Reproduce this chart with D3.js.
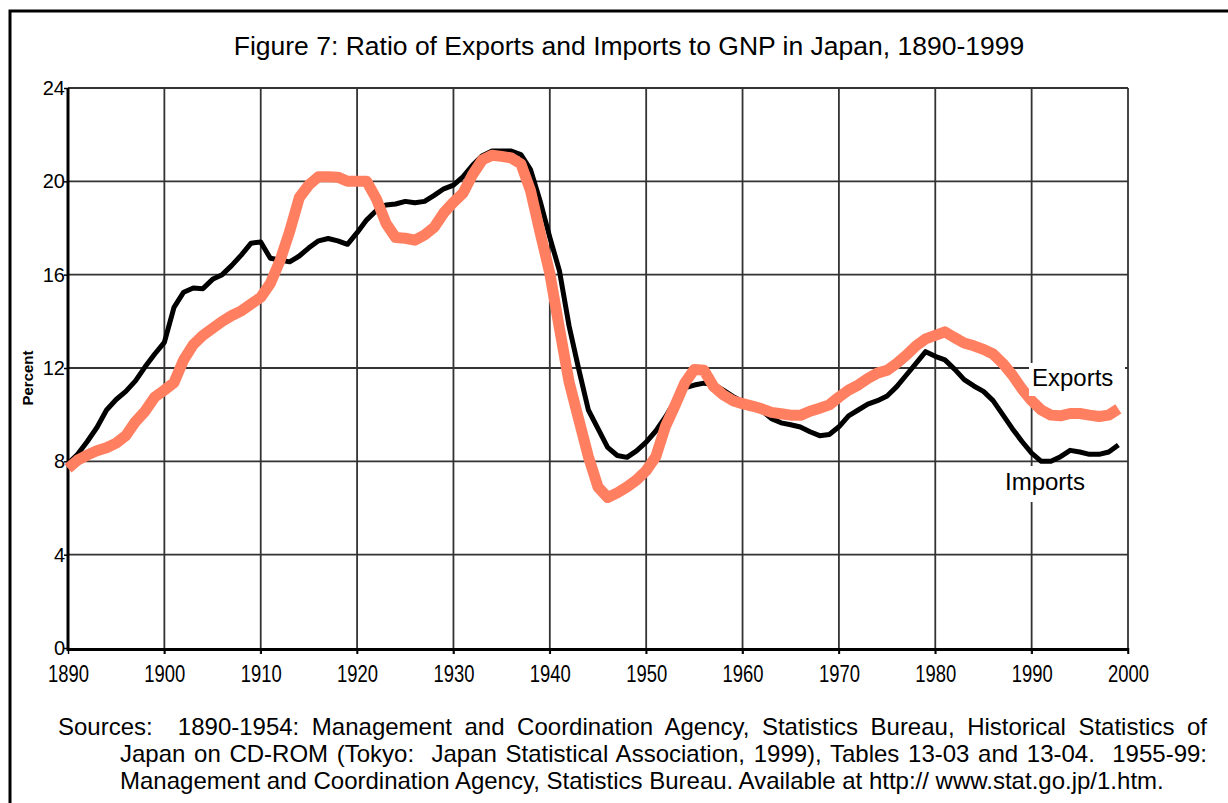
<!DOCTYPE html>
<html>
<head>
<meta charset="utf-8">
<script src="https://cdn.jsdelivr.net/npm/d3@7"></script>
<style>
  body { margin: 0; background: #fff; }
  svg { display: block; font-family: "Liberation Sans", Arial, sans-serif; }
</style>
</head>
<body>
<div id="chart"></div>
<script>
// years on the x axis, one value per year
const firstYear = 1890;
const lastYear = 1999;

// Imports / GNP (%)
const imports = [
  7.9, 8.3, 8.85, 9.45, 10.2, 10.65, 11.0, 11.45, 12.05, 12.6,
  13.1, 14.6, 15.25, 15.43, 15.4, 15.8, 16.0, 16.4, 16.85, 17.35,
  17.4, 16.7, 16.63, 16.55, 16.8, 17.15, 17.45, 17.55, 17.45, 17.3,
  17.8, 18.35, 18.75, 18.99, 19.03, 19.14, 19.08, 19.14, 19.4, 19.68,
  19.84, 20.2, 20.7, 21.1, 21.3, 21.3, 21.3, 21.15, 20.5, 19.15,
  17.6, 16.16, 13.8, 11.95, 10.2, 9.4, 8.6, 8.25, 8.17, 8.45,
  8.82, 9.3, 9.9, 10.6, 11.15, 11.27, 11.35, 11.3, 11.05, 10.78,
  10.56, 10.4, 10.18, 9.83, 9.65, 9.57, 9.47, 9.27, 9.1, 9.15,
  9.48, 9.95, 10.2, 10.45, 10.6, 10.8, 11.2, 11.7, 12.2, 12.7,
  12.5, 12.35, 11.95, 11.5, 11.23, 11.0, 10.6, 10.0, 9.4, 8.85,
  8.35, 8.0, 8.0, 8.2, 8.47, 8.4, 8.3, 8.3, 8.4, 8.7
];

// Exports / GNP (%)
const exports = [
  7.7, 8.05, 8.27, 8.45, 8.58, 8.78, 9.1, 9.7, 10.15, 10.75,
  11.05, 11.37, 12.35, 13.0, 13.4, 13.7, 14.0, 14.25, 14.45, 14.74,
  15.03, 15.63, 16.6, 17.85, 19.3, 19.85, 20.2, 20.2, 20.18, 20.0,
  20.0, 20.0, 19.25, 18.2, 17.59, 17.56, 17.48, 17.7, 18.03, 18.65,
  19.1, 19.5, 20.3, 20.92, 21.12, 21.07, 21.0, 20.75, 19.6, 17.8,
  16.05, 13.7, 11.4, 9.8, 8.2, 6.9, 6.45, 6.65, 6.9, 7.2,
  7.6, 8.2, 9.5, 10.4, 11.35, 11.94, 11.9, 11.2, 10.85, 10.6,
  10.47, 10.37, 10.25, 10.1, 10.04, 9.98, 9.97, 10.15, 10.28, 10.42,
  10.75, 11.05, 11.27, 11.55, 11.78, 11.9, 12.2, 12.55, 12.95, 13.25,
  13.4, 13.55, 13.3, 13.07, 12.95, 12.8, 12.6, 12.2, 11.7, 11.1,
  10.6, 10.2, 9.98, 9.95, 10.05, 10.05, 9.98, 9.92, 9.98, 10.25
];

const xTicks = [1890, 1900, 1910, 1920, 1930, 1940, 1950, 1960, 1970, 1980, 1990, 2000];
const yTicks = [0, 4, 8, 12, 16, 20, 24];

const titleText = 'Figure 7: Ratio of Exports and Imports to GNP in Japan, 1890-1999';
const sourceLines = [
  'Sources:  1890-1954: Management and Coordination Agency, Statistics Bureau, Historical Statistics of',
  'Japan on CD-ROM (Tokyo:  Japan Statistical Association, 1999), Tables 13-03 and 13-04.  1955-99:',
  'Management and Coordination Agency, Statistics Bureau. Available at http:// www.stat.go.jp/1.htm.'
];

const config = {
  width: 1228,
  height: 803,
  margin: {top: 88, right: 100, bottom: 155, left: 68}
};
const w = config.width - config.margin.left - config.margin.right;
const h = config.height - config.margin.top - config.margin.bottom;

const years = d3.range(firstYear, lastYear + 1);

const svg = d3.select('#chart').append('svg')
  .attr('width', config.width)
  .attr('height', config.height);

// outer frame (runs off the right and bottom edge)
svg.append('rect')
  .attr('x', 10).attr('y', 11)
  .attr('width', 1240).attr('height', 820)
  .attr('fill', 'none')
  .attr('stroke', '#000')
  .attr('stroke-width', 3);

svg.append('text')
  .attr('x', 629).attr('y', 55)
  .attr('text-anchor', 'middle')
  .attr('font-size', 26.5)
  .text(titleText);

const chart = svg.append('g')
  .attr('transform', `translate(${config.margin.left},${config.margin.top})`);

const x = d3.scaleLinear().domain([1890, 2000]).range([0, w]);
const y = d3.scaleLinear().domain([0, 24]).range([h, 0]);

// grid
chart.append('g')
  .selectAll('line')
  .data(yTicks.filter(d => d > 0))
  .join('line')
  .attr('x1', 0).attr('x2', w)
  .attr('y1', d => y(d)).attr('y2', d => y(d))
  .attr('stroke', '#333')
  .attr('stroke-width', 1.8);

chart.append('g')
  .selectAll('line')
  .data(xTicks.filter(d => d > 1890))
  .join('line')
  .attr('x1', d => x(d)).attr('x2', d => x(d))
  .attr('y1', 0).attr('y2', h + 6)
  .attr('stroke', '#333')
  .attr('stroke-width', 1.8);

// axes
const yAxis = chart.append('g')
  .call(d3.axisLeft(y).tickValues(yTicks).tickSize(4).tickSizeOuter(0));
yAxis.select('.domain').remove();
yAxis.selectAll('.tick line').attr('stroke', '#000').attr('stroke-width', 1.5);
yAxis.selectAll('.tick text')
  .attr('x', -3)
  .attr('font-size', 20)
  .attr('font-family', '"Liberation Sans", Arial, sans-serif')
  .attr('fill', '#000');

const xAxis = chart.append('g')
  .attr('transform', `translate(0,${h})`)
  .call(d3.axisBottom(x).tickValues(xTicks).tickFormat(d3.format('d')).tickSize(6).tickSizeOuter(0));
xAxis.select('.domain').remove();
xAxis.selectAll('.tick line').attr('stroke', '#000').attr('stroke-width', 1.5);
xAxis.selectAll('.tick text')
  .attr('y', 18)
  .attr('dy', '0.71em')
  .attr('font-size', 23)
  .attr('font-family', '"Liberation Sans", Arial, sans-serif')
  .attr('textLength', 41)
  .attr('lengthAdjust', 'spacingAndGlyphs')
  .attr('fill', '#000');

chart.append('line')
  .attr('x1', 0).attr('x2', 0)
  .attr('y1', 0).attr('y2', h + 3)
  .attr('stroke', '#000').attr('stroke-width', 3);
chart.append('line')
  .attr('x1', 0).attr('x2', w)
  .attr('y1', h + 1.5).attr('y2', h + 1.5)
  .attr('stroke', '#000').attr('stroke-width', 3);

svg.append('text')
  .attr('transform', 'translate(33,378) rotate(-90)')
  .attr('text-anchor', 'middle')
  .attr('font-size', 15)
  .attr('font-weight', 'bold')
  .text('Percent');

// series labels sit on white boxes that hide the grid
const labels = [
  {text: 'Exports', x: 1032, y: 386, bx: 1029, by: 363, bw: 96, bh: 33},
  {text: 'Imports', x: 1005, y: 490, bx: 1002, by: 466, bw: 88, bh: 36}
];
labels.forEach(l => {
  svg.append('rect')
    .attr('x', l.bx).attr('y', l.by)
    .attr('width', l.bw).attr('height', l.bh)
    .attr('fill', '#fff');
  svg.append('text')
    .attr('x', l.x).attr('y', l.y)
    .attr('font-size', 24)
    .text(l.text);
});

const line = d3.line()
  .x((d, i) => x(years[i]))
  .y(d => y(d));

chart.append('path')
  .datum(imports)
  .attr('d', line)
  .attr('fill', 'none')
  .attr('stroke', '#000')
  .attr('stroke-width', 5)
  .attr('stroke-linejoin', 'round');

chart.append('path')
  .datum(exports)
  .attr('d', line)
  .attr('fill', 'none')
  .attr('stroke', '#ff7f60')
  .attr('stroke-width', 11)
  .attr('stroke-linejoin', 'round');

// sources note, first two lines justified by widening the word gaps
const note = svg.append('g').attr('font-size', 24);
const noteRows = [
  {x: 58, y: 735, right: 1207},
  {x: 120, y: 762, right: 1207},
  {x: 120, y: 789, right: null}
];
noteRows.forEach((r, i) => {
  const t = note.append('text')
    .attr('x', r.x).attr('y', r.y)
    .attr('xml:space', 'preserve')
    .style('white-space', 'pre')
    .text(sourceLines[i]);
  if (r.right) {
    const natural = t.node().getComputedTextLength();
    const gaps = (sourceLines[i].match(/ /g) || []).length;
    const extra = (r.right - r.x - natural) / gaps;
    t.attr('word-spacing', extra);
  }
});
</script>
</body>
</html>
